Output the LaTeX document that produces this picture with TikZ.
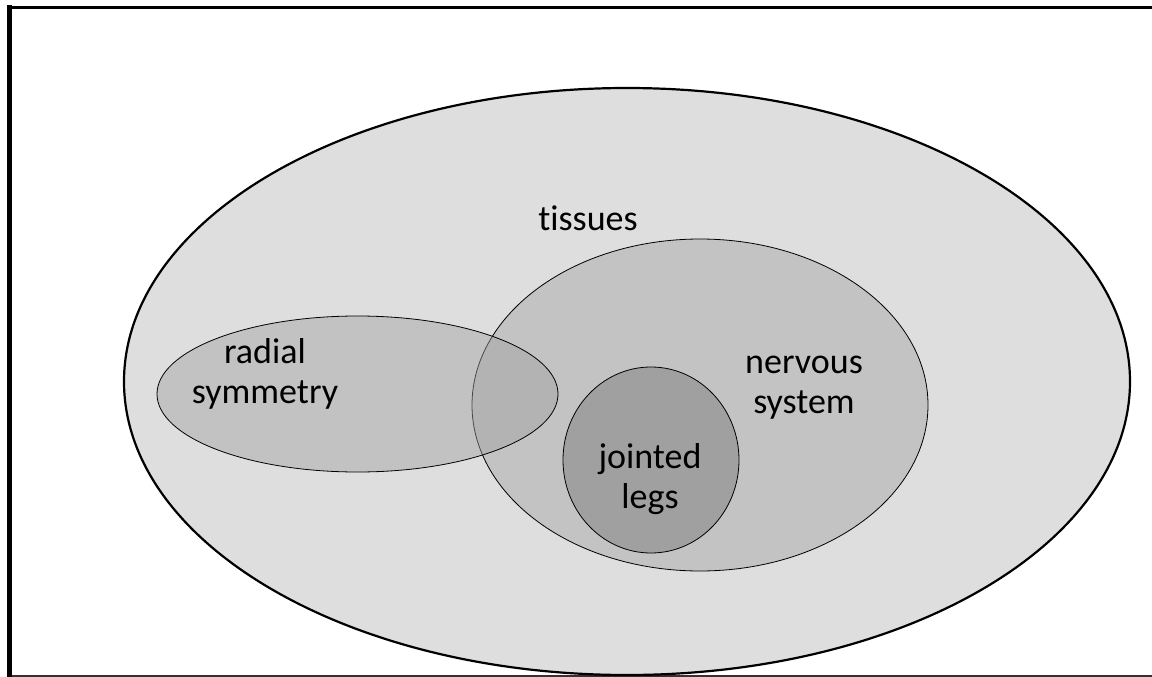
\documentclass[tikz,border=0pt]{standalone}
\usepackage{fontspec}
\setmainfont[Ligatures=NoCommon]{Carlito}
\usetikzlibrary{shapes.geometric}
\definecolor{outerfill}{RGB}{222,222,222}
\definecolor{setfill}{RGB}{195,195,195}
\definecolor{legfill}{RGB}{160,160,160}
\definecolor{radfill}{RGB}{161,161,161}
\tikzset{
  setshape/.style={ellipse, inner sep=0pt, draw=black, line width=0.8pt},
  lbl/.style={align=center, font=\fontsize{36}{40}\selectfont, text height=27pt, text depth=9pt, inner sep=0pt, text=black},
}
\begin{document}
\begin{tikzpicture}[x=1pt,y=-1pt]
\useasboundingbox (0,0) rectangle (1152,677);
% frame
\coordinate (ftl) at (9.5,7.5);
\coordinate (ftr) at (1152,7.5);
\coordinate (fbl) at (9.5,676);
\coordinate (fbr) at (1152,676);
\draw[line width=3pt] (ftl) -- (ftr);
\draw[line width=1.6pt, draw=black!80] (fbl) -- (fbr);
\draw[line width=4.5pt] (9.5,5.5) -- (9.5,677);
% sets
\node[setshape, fill=outerfill, line width=2.2pt, minimum width=1006pt, minimum height=587pt] (animals) at (627,381.5) {};
\node[setshape, fill=setfill, minimum width=456pt, minimum height=332pt] (nervous) at (700,405) {};
\node[setshape, fill=legfill, minimum width=176pt, minimum height=186pt] (legs) at (651,460) {};
\node[setshape, fill=radfill, fill opacity=0.45, minimum width=401pt, minimum height=156pt] (radial) at (357.5,394) {};
% labels
\node[lbl] (tissuesl) at (588,221) {tissues};
\node[lbl] (radiall) at (265,394) {radial\\symmetry};
\node[lbl] (nervousl) at (804,404) {nervous\\system};
\node[lbl] (legsl) at (650,499) {jointed\\legs};
\end{tikzpicture}
\end{document}
